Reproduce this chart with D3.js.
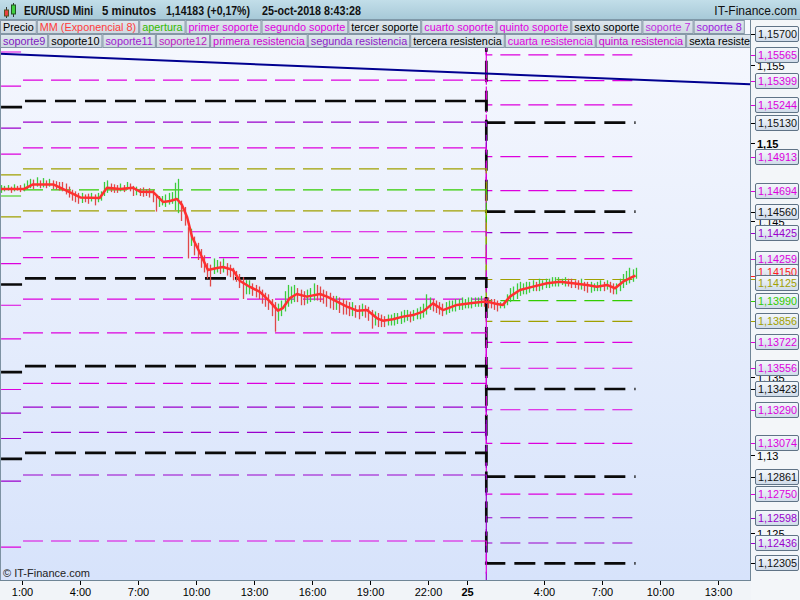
<!DOCTYPE html>
<html><head><meta charset="utf-8">
<script src="https://cdn.jsdelivr.net/npm/d3@7"></script>
<style>body{margin:0;background:#fff}svg{display:block}</style>
</head><body><svg id="c" width="800" height="600"></svg>
<script>
// ---------------- DATA ----------------
const titleParts = ["EUR/USD Mini", "5 minutos", "1,14183 (+0,17%)", "25-oct-2018 8:43:28"];
const siteName = "IT-Finance.com";
const copyrightText = "© IT-Finance.com";

const xTickHours  = [1, 4, 7, 10, 13, 16, 19, 22, 24, 28, 31, 34, 37];
const xTickLabels = ["1:00","4:00","7:00","10:00","13:00","16:00","19:00","22:00","25","4:00","7:00","10:00","13:00"];
const xTickBold   = [false,false,false,false,false,false,false,false,true,false,false,false,false];

const yTickValues = [1.155, 1.15, 1.145, 1.135, 1.13, 1.125];
const yTickLabels = ["1,155","1,15","1,145","1,135","1,13","1,125"];
const yTickBold   = [false, true, false, false, false, false];

const dayStartHours = [1, 25];
const firstBarHour = -0.1;
const barStepHours = 1 / 6;
const lastHour = 32.72;

const barHigh = [1.14730,1.14725,1.14730,1.14720,1.14735,1.14725,1.14730,1.14740,1.14760,1.14770,
1.14765,1.14780,1.14760,1.14775,1.14760,1.14770,1.14760,1.14755,1.14750,1.14750,
1.14740,1.14720,1.14700,1.14690,1.14680,1.14680,1.14670,1.14675,1.14680,1.14670,
1.14680,1.14690,1.14750,1.14760,1.14740,1.14735,1.14730,1.14740,1.14730,1.14750,
1.14740,1.14725,1.14720,1.14710,1.14715,1.14705,1.14710,1.14700,1.14670,1.14660,
1.14660,1.14670,1.14680,1.14685,1.14745,1.14770,1.14630,1.14590,1.14460,1.14450,
1.14400,1.14360,1.14320,1.14280,1.14230,1.14220,1.14260,1.14250,1.14240,1.14260,
1.14230,1.14220,1.14200,1.14180,1.14160,1.14140,1.14120,1.14120,1.14100,1.14090,
1.14080,1.14060,1.14040,1.14030,1.14000,1.13980,1.13970,1.13990,1.14050,1.14090,
1.14080,1.14090,1.14070,1.14060,1.14050,1.14060,1.14070,1.14100,1.14090,1.14080,
1.14060,1.14050,1.14040,1.14020,1.14020,1.14010,1.14000,1.13990,1.13980,1.13980,
1.13960,1.13960,1.13970,1.13960,1.13950,1.13930,1.13920,1.13910,1.13900,1.13890,
1.13900,1.13900,1.13910,1.13910,1.13920,1.13930,1.13930,1.13920,1.13930,1.13940,
1.13950,1.13970,1.14030,1.14010,1.14000,1.13990,1.13980,1.13970,1.13980,1.13990,
1.13990,1.14000,1.14000,1.14010,1.14000,1.14010,1.14010,1.14010,1.14010,1.14020,
1.14010,1.14010,1.14000,1.14000,1.13990,1.13980,1.13990,1.14030,1.14070,1.14080,
1.14100,1.14110,1.14100,1.14110,1.14110,1.14120,1.14110,1.14130,1.14120,1.14130,
1.14130,1.14140,1.14140,1.14140,1.14130,1.14140,1.14130,1.14130,1.14120,1.14120,
1.14130,1.14110,1.14110,1.14110,1.14100,1.14110,1.14120,1.14110,1.14120,1.14110,
1.14100,1.14100,1.14130,1.14160,1.14180,1.14200,1.14190,1.14200];

const barLow = [1.14680,1.14690,1.14695,1.14680,1.14690,1.14695,1.14685,1.14690,1.14700,1.14710,
1.14705,1.14720,1.14710,1.14715,1.14710,1.14720,1.14705,1.14700,1.14695,1.14690,
1.14670,1.14650,1.14630,1.14620,1.14610,1.14615,1.14620,1.14610,1.14625,1.14600,
1.14620,1.14630,1.14660,1.14680,1.14685,1.14680,1.14680,1.14690,1.14685,1.14700,
1.14690,1.14660,1.14665,1.14660,1.14655,1.14660,1.14650,1.14620,1.14560,1.14590,
1.14600,1.14590,1.14605,1.14610,1.14570,1.14550,1.14500,1.14470,1.14260,1.14340,
1.14280,1.14250,1.14200,1.14170,1.14130,1.14080,1.14160,1.14170,1.14160,1.14170,
1.14150,1.14140,1.14120,1.14110,1.14070,1.14000,1.14030,1.14030,1.14020,1.14010,
1.14000,1.13970,1.13950,1.13930,1.13890,1.13790,1.13860,1.13890,1.13920,1.13950,
1.13970,1.13980,1.13980,1.13960,1.13960,1.13970,1.13980,1.13990,1.13990,1.13980,
1.13970,1.13950,1.13940,1.13930,1.13930,1.13910,1.13900,1.13900,1.13890,1.13890,
1.13880,1.13870,1.13890,1.13880,1.13860,1.13810,1.13830,1.13820,1.13820,1.13820,
1.13830,1.13830,1.13830,1.13840,1.13840,1.13850,1.13860,1.13850,1.13860,1.13870,
1.13870,1.13880,1.13900,1.13930,1.13920,1.13910,1.13900,1.13890,1.13900,1.13910,
1.13920,1.13920,1.13930,1.13930,1.13940,1.13940,1.13940,1.13950,1.13950,1.13950,
1.13950,1.13940,1.13940,1.13930,1.13920,1.13940,1.13940,1.13960,1.13980,1.13990,
1.14000,1.14020,1.14030,1.14030,1.14040,1.14050,1.14050,1.14050,1.14060,1.14070,
1.14070,1.14080,1.14080,1.14080,1.14090,1.14080,1.14080,1.14070,1.14070,1.14060,
1.14060,1.14050,1.14040,1.14040,1.14050,1.14050,1.14050,1.14050,1.14060,1.14040,
1.14030,1.14030,1.14050,1.14070,1.14090,1.14100,1.14110,1.14130];

const emaHours = [-0.1,1.1,1.55,2.6,3.2,4.0,5.0,5.38,6.05,6.72,
7.09,7.76,8.28,8.64,9.0,9.26,9.52,9.78,10.19,10.6,
11.07,11.38,11.9,12.26,12.78,13.29,13.81,14.22,14.48,14.84,
15.2,15.72,16.4,16.76,17.28,17.79,18.31,18.83,19.35,19.65,
20.17,20.69,21.21,21.72,22.24,22.76,23.48,24.16,24.83,25.04,
25.55,25.86,26.22,26.74,27.42,28.14,28.81,29.48,30.2,30.72,
31.24,31.66,32.07,32.59,32.72];
const emaValues = [1.14705,1.14705,1.14734,1.14734,1.14700,1.14651,1.14647,1.14713,1.14705,1.14713,
1.14688,1.14686,1.14622,1.14628,1.14641,1.14603,1.14526,1.14397,1.14295,1.14186,
1.14199,1.14205,1.14186,1.14115,1.14077,1.14045,1.13983,1.13925,1.13942,1.14006,
1.14032,1.14015,1.14032,1.14015,1.13983,1.13951,1.13925,1.13929,1.13876,1.13861,
1.13870,1.13887,1.13897,1.13919,1.13972,1.13929,1.13962,1.13972,1.13983,1.13983,
1.13968,1.13962,1.14015,1.14058,1.14079,1.14101,1.14111,1.14101,1.14090,1.14079,
1.14090,1.14069,1.14111,1.14143,1.14150];

const trendHours  = [-0.155, 38.64];
const trendValues = [1.15571, 1.15376];

// pivot levels: one step per day (23, 24, 25 oct)
const levelColors = ["#000000","#dd00dd","#dd00dd","#dd00dd","#000000","#dd00dd","#dd00dd","#000000","#9900cc","#dd00dd",
"#a0a000","#33cc00","#a0a000","#dd00dd","#dd00dd","#000000","#dd00dd","#dd00dd","#000000","#dd00dd",
"#9900cc","#9900cc","#000000","#9900cc","#dd00dd"];
const levelDay23 = [1.16370,1.16235,1.16069,1.15914,1.15800,1.15583,1.15364,1.15230,1.15095,1.14929,
1.14795,1.14660,1.14526,1.14392,1.14226,1.14093,1.13960,1.13744,1.13531,1.13420,
1.13268,1.13106,1.12975,1.12833,1.12410];
const levelDay24 = [1.16409,1.16274,1.16108,1.15953,1.15839,1.15622,1.15403,1.15269,1.15134,1.14968,
1.14834,1.14699,1.14565,1.14431,1.14265,1.14132,1.13999,1.13783,1.13570,1.13459,
1.13307,1.13145,1.13014,1.12872,1.12449];
const levelDay25 = [1.15700,1.15565,1.15399,1.15244,1.15130,1.14913,1.14694,1.14560,1.14425,1.14259,
1.14125,1.13990,1.13856,1.13722,1.13556,1.13423,1.13290,1.13074,1.12861,1.12750,
1.12598,1.12436,1.12305,1.12163,1.11740];

const legendLabels = ["Precio","MM (Exponencial 8)","apertura","primer soporte","segundo soporte","tercer soporte",
"cuarto soporte","quinto soporte","sexto soporte","soporte 7","soporte 8","soporte9","soporte10","soporte11",
"soporte12","primera resistencia","segunda resistencia","tercera resistencia","cuarta resistencia",
"quinta resistencia","sexta resistencia"];
const legendColors = ["#000000","#ff3b3b","#33bb00","#e000e0","#e000e0","#000000","#e000e0","#e000e0","#000000",
"#c030e0","#a020e0","#8020c0","#000000","#a020d0","#c020c0","#d000d0","#8f20c8","#000000","#e000e0","#d000d0","#000000"];

const emaColor = "#ff3030";
const upColor = "#3ccc3c", downColor = "#e04848";
const trendColor = "#000090";

// ---------------- CHART ----------------
const svg = d3.select("#c");
const plot = {x0: 0, x1: 750, y0: 20, y1: 580};
const x = d3.scaleLinear().domain([-0.155, 38.64]).range([plot.x0, plot.x1]);
const y = d3.scaleLinear().domain([1.12199, 1.15788]).range([plot.y1, plot.y0]);
const FONT = "'Liberation Sans', Arial, sans-serif";

const defs = svg.append("defs");
const g1 = defs.append("linearGradient").attr("id","plotbg").attr("x1",0).attr("y1",0).attr("x2",0).attr("y2",1);
g1.append("stop").attr("offset","0%").attr("stop-color","#f6f8fe");
g1.append("stop").attr("offset","100%").attr("stop-color","#d7e3fb");
const g2 = defs.append("linearGradient").attr("id","hdrbg").attr("x1",0).attr("y1",0).attr("x2",0).attr("y2",1);
g2.append("stop").attr("offset","0%").attr("stop-color","#c2dee9");
g2.append("stop").attr("offset","100%").attr("stop-color","#a6c8d7");
const g3 = defs.append("linearGradient").attr("id","lblbg").attr("x1",0).attr("y1",0).attr("x2",0).attr("y2",1);
g3.append("stop").attr("offset","0%").attr("stop-color","#f5f8fc");
g3.append("stop").attr("offset","100%").attr("stop-color","#cfdbe9");
const g4 = defs.append("linearGradient").attr("id","legbg").attr("x1",0).attr("y1",0).attr("x2",0).attr("y2",1);
g4.append("stop").attr("offset","0%").attr("stop-color","#dfe7ee");
g4.append("stop").attr("offset","100%").attr("stop-color","#cdd8e1");
defs.append("clipPath").attr("id","plotclip").append("rect")
  .attr("x",plot.x0).attr("y",plot.y0).attr("width",plot.x1-plot.x0).attr("height",plot.y1-plot.y0);

// backgrounds
svg.append("rect").attr("width",800).attr("height",600).attr("fill","#f1f4f8");
svg.append("rect").attr("x",plot.x0).attr("y",plot.y0).attr("width",plot.x1-plot.x0).attr("height",plot.y1-plot.y0).attr("fill","url(#plotbg)");

const P = svg.append("g").attr("clip-path","url(#plotclip)");

// pivot level step lines
const stepLine = d3.line().x(d => x(d[0])).y(d => y(d[1]));
levelColors.forEach((c, i) => {
  const pts = [[firstBarHour, levelDay23[i]], [dayStartHours[0], levelDay23[i]], [dayStartHours[0], levelDay24[i]],
               [dayStartHours[1], levelDay24[i]], [dayStartHours[1], levelDay25[i]], [lastHour, levelDay25[i]]];
  const thick = c === "#000000";
  P.append("path").attr("d", stepLine(pts)).attr("fill","none")
    .attr("stroke", thick ? "#0a0a0a" : c)
    .attr("stroke-width", thick ? 2.7 : 1.2)
    .attr("stroke-dasharray", thick ? "21 9" : "20 8");
});

// trend line
P.append("path").attr("d", stepLine(trendHours.map((h,i)=>[h, trendValues[i]])))
  .attr("stroke", trendColor).attr("stroke-width", 2).attr("fill","none");

// price bars
barHigh.forEach((h, i) => {
  const lo = barLow[i];
  const mid = (h + lo) / 2;
  const prev = i ? (barHigh[i-1] + barLow[i-1]) / 2 : mid;
  const xx = Math.round(x(firstBarHour + i * barStepHours)) + 0.5;
  P.append("line").attr("x1",xx).attr("x2",xx).attr("y1",y(h)).attr("y2",y(lo))
    .attr("stroke", mid >= prev ? upColor : downColor).attr("stroke-width",1.3);
});

// EMA
P.append("path").attr("d", d3.line().x(d=>x(d[0])).y(d=>y(d[1]))(emaHours.map((h,i)=>[h, emaValues[i]])))
  .attr("fill","none").attr("stroke", emaColor).attr("stroke-width", 2.5).attr("stroke-linejoin","round");

// copyright
svg.append("text").attr("x",3).attr("y",577).attr("font-family",FONT).attr("font-size",11).attr("fill","#222").text(copyrightText);

// frame
svg.append("line").attr("x1",0.5).attr("x2",0.5).attr("y1",plot.y0).attr("y2",plot.y1).attr("stroke","#7d92a3");
svg.append("line").attr("x1",plot.x1+0.5).attr("x2",plot.x1+0.5).attr("y1",plot.y0).attr("y2",plot.y1+1).attr("stroke","#6f8596");
svg.append("line").attr("x1",0).attr("x2",plot.x1+1).attr("y1",plot.y1+0.5).attr("y2",plot.y1+0.5).attr("stroke","#6f8596");

// header
svg.append("rect").attr("x",0).attr("y",0).attr("width",800).attr("height",20).attr("fill","url(#hdrbg)");
svg.append("line").attr("x1",0).attr("x2",800).attr("y1",19.5).attr("y2",19.5).attr("stroke","#7f98a8");
const ic = svg.append("g");
ic.append("line").attr("x1",6.5).attr("x2",6.5).attr("y1",7).attr("y2",18).attr("stroke","#333");
ic.append("rect").attr("x",4.5).attr("y",10).attr("width",4).attr("height",6).attr("fill","#e84040").attr("stroke","#552");
ic.append("line").attr("x1",13.5).attr("x2",13.5).attr("y1",3).attr("y2",17).attr("stroke","#333");
ic.append("rect").attr("x",11.5).attr("y",5).attr("width",4).attr("height",9).attr("fill","#40d040").attr("stroke","#252");
const titleX = [24, 102, 166, 262], titleW = [69, 54, 84, 99];
titleParts.forEach((t,i)=>{
  svg.append("text").attr("x",titleX[i]).attr("y",15).attr("font-family",FONT).attr("font-weight","bold")
    .attr("font-size",12).attr("textLength",titleW[i]).attr("lengthAdjust","spacingAndGlyphs").attr("fill","#111").text(t);
});
svg.append("text").attr("x",797).attr("y",15).attr("text-anchor","end").attr("font-family",FONT)
  .attr("font-size",12).attr("fill","#111").text(siteName);

// legend
const legG = svg.append("g");
let lx = 0, row = 0;
const rowY = [20.5, 34.5], rowH = 13;
legendLabels.forEach((lab, i) => {
  const t = legG.append("text").attr("font-family",FONT).attr("font-size",10.85).attr("fill",legendColors[i]).text(lab);
  const w = t.node().getComputedTextLength() + 6;
  if (row === 0 && lx + w > 750) { row = 1; lx = 0; }
  legG.insert("rect","text").attr("x",lx+0.5).attr("y",rowY[row]).attr("width",w-1).attr("height",rowH)
    .attr("fill","url(#legbg)").attr("stroke","#8597a6").attr("stroke-width",1);
  t.attr("x",lx+3).attr("y",rowY[row]+10.3);
  lx += w;
});

// right axis panel
svg.append("rect").attr("x",751).attr("y",20).attr("width",49).attr("height",580).attr("fill","#f3f6f9");
svg.append("line").attr("x1",750.5).attr("x2",750.5).attr("y1",20).attr("y2",581).attr("stroke","#6f8596");
yTickValues.forEach((v,i)=>{
  const yy = Math.round(y(v)) + 0.5;
  svg.append("line").attr("x1",751).attr("x2",755).attr("y1",yy).attr("y2",yy).attr("stroke","#000");
  svg.append("text").attr("x",757).attr("y",yy+4).attr("font-family",FONT).attr("font-size",11)
    .attr("font-weight", yTickBold[i] ? "bold" : "normal").attr("fill","#000").text(yTickLabels[i]);
});
const fmt = v => v.toFixed(5).replace(".", ",");
let labels = levelDay25.map((v,i)=>({v, c: levelColors[i]}));
labels.push({v: emaValues[emaValues.length-1], c: "#ff2020"});
labels = labels.filter(d => y(d.v) > plot.y0 + 5 && y(d.v) < plot.y1 - 5);
labels.forEach(d => { d.ny = y(d.v); d.py = d.ny; });
labels.sort((a,b)=>a.ny-b.ny);
for (let it=0; it<30; it++) {
  for (let k=1; k<labels.length; k++) {
    const gap = labels[k].py - labels[k-1].py;
    if (gap < 11) { const s = (11-gap)/2; labels[k].py += s; labels[k-1].py -= s; }
  }
}
labels.forEach(d => {
  const yy = Math.round(d.py);
  svg.append("line").attr("x1",751).attr("x2",756).attr("y1",Math.round(d.ny)+0.5).attr("y2",Math.round(d.ny)+0.5).attr("stroke",d.c);
  svg.append("rect").attr("x",755.5).attr("y",yy-7.5).attr("width",43).attr("height",15).attr("rx",1.5)
    .attr("fill","url(#lblbg)").attr("stroke","#5f7386");
  svg.append("text").attr("x",758).attr("y",yy+4).attr("font-family",FONT).attr("font-size",10.8)
    .attr("fill", d.c === "#000000" ? "#111" : d.c).text(fmt(d.v));
});

// bottom axis
svg.append("rect").attr("x",0).attr("y",581).attr("width",751).attr("height",19).attr("fill","#f1f4f8");
xTickHours.forEach((h,i)=>{
  const xx = Math.round(x(h)) + 0.5;
  svg.append("line").attr("x1",xx).attr("x2",xx).attr("y1",581).attr("y2",585).attr("stroke","#000");
  svg.append("text").attr("x",xx).attr("y",596).attr("text-anchor","middle").attr("font-family",FONT)
    .attr("font-size",11).attr("font-weight", xTickBold[i] ? "bold" : "normal").attr("fill","#000").text(xTickLabels[i]);
});
</script></body></html>
